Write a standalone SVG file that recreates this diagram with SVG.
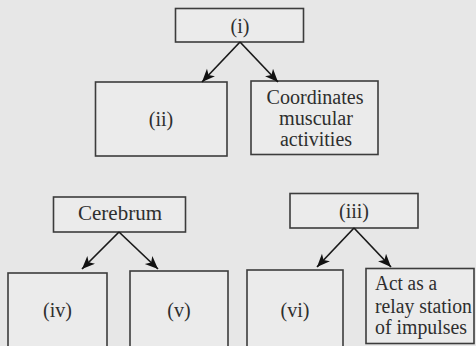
<svg xmlns="http://www.w3.org/2000/svg" width="476" height="346" viewBox="0 0 476 346">
<defs>
<marker id="ah" markerUnits="userSpaceOnUse" markerWidth="16" markerHeight="14" refX="13" refY="5.5" orient="auto">
<path d="M0,0 L13,5.5 L0,11 L3.5,5.5 Z" fill="#111"/>
</marker>
<style>
.box{fill:#ebebeb;stroke:#3c3c3c;stroke-width:1.6}
.t{font-family:"Liberation Serif","Times New Roman",serif;font-size:20px;fill:#2e2e2e;text-anchor:middle}
.tl{font-family:"Liberation Serif","Times New Roman",serif;font-size:20px;fill:#2e2e2e}
.c{stroke:#1a1a1a;stroke-width:1.7;fill:none;marker-end:url(#ah)}
</style>
</defs>
<rect x="0" y="0" width="476" height="346" fill="#e7e7e7"/>
<g id="n-i"><rect class="box" x="175.5" y="8.5" width="128" height="33.5"/><text class="t" x="240" y="33">(i)</text></g>
<g id="n-ii"><rect class="box" x="95.5" y="82" width="131.5" height="74"/><text class="t" x="161" y="126">(ii)</text></g>
<g id="n-coord"><rect class="box" x="251" y="81" width="127" height="73.5"/>
<text class="t" x="315" y="104" textLength="97" lengthAdjust="spacingAndGlyphs">Coordinates</text>
<text class="t" x="316" y="125" textLength="74" lengthAdjust="spacingAndGlyphs">muscular</text>
<text class="t" x="316" y="146" textLength="72" lengthAdjust="spacingAndGlyphs">activities</text></g>
<g id="n-cerebrum"><rect class="box" x="53.5" y="197" width="132" height="35"/><text class="t" x="120" y="220" textLength="84" lengthAdjust="spacingAndGlyphs">Cerebrum</text></g>
<g id="n-iii"><rect class="box" x="290" y="193.5" width="128" height="34.5"/><text class="t" x="354" y="218">(iii)</text></g>
<g id="n-iv"><rect class="box" x="8" y="273" width="99" height="80"/><text class="t" x="57.5" y="317">(iv)</text></g>
<g id="n-v"><rect class="box" x="130" y="271" width="98" height="82"/><text class="t" x="179" y="317">(v)</text></g>
<g id="n-vi"><rect class="box" x="247" y="270" width="96" height="83"/><text class="t" x="295" y="317">(vi)</text></g>
<g id="n-relay"><rect class="box" x="366" y="268.5" width="108" height="75"/>
<text class="tl" x="375" y="290" textLength="62" lengthAdjust="spacingAndGlyphs">Act as a</text>
<text class="tl" x="375" y="313" textLength="97" lengthAdjust="spacingAndGlyphs">relay station</text>
<text class="tl" x="375" y="334" textLength="92" lengthAdjust="spacingAndGlyphs">of impulses</text></g>
<g id="connectors">
<line class="c" x1="240" y1="42" x2="202" y2="82"/>
<line class="c" x1="240" y1="42" x2="278" y2="82"/>
<line class="c" x1="119" y1="232" x2="82" y2="269"/>
<line class="c" x1="119" y1="232" x2="158" y2="269"/>
<line class="c" x1="354" y1="228" x2="317" y2="267"/>
<line class="c" x1="354" y1="228" x2="391" y2="267"/>
</g>
</svg>
